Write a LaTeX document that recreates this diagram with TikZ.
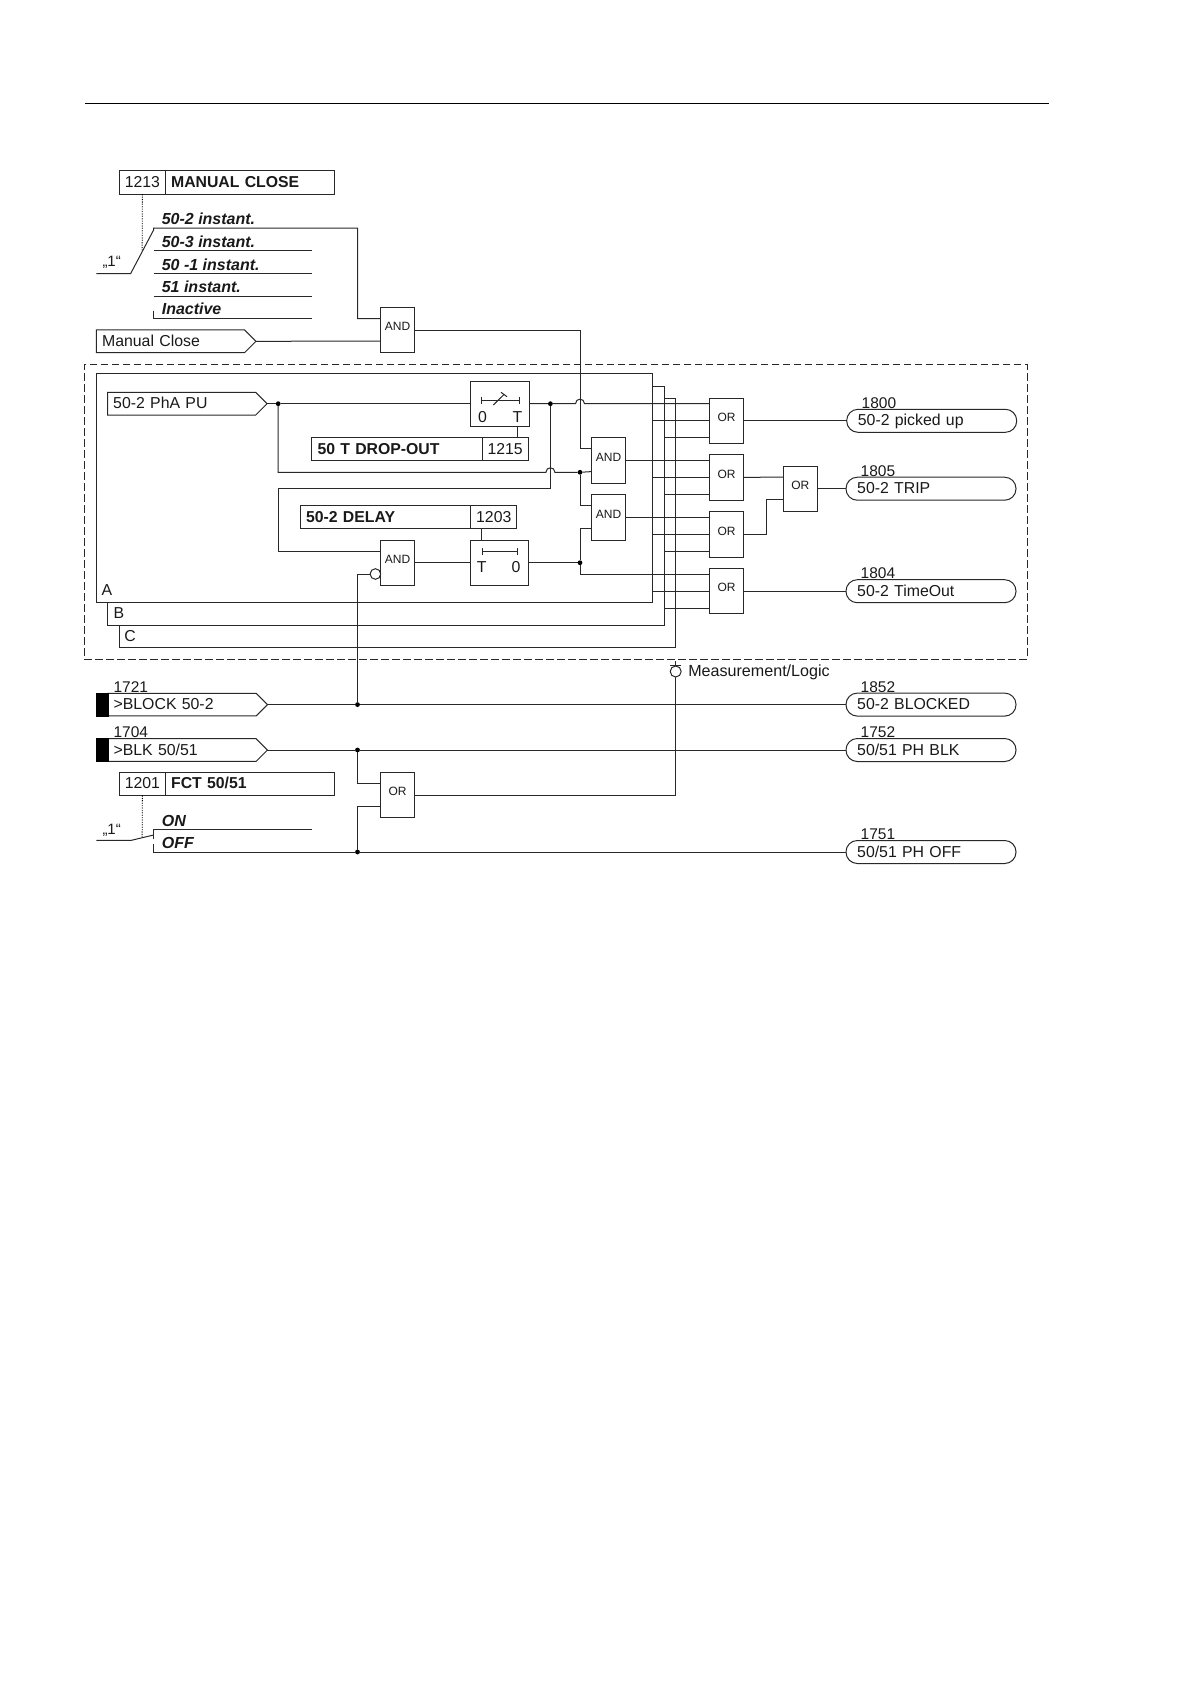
\documentclass[tikz,border=0pt]{standalone}
\usepackage{fontspec}
\setmainfont{Liberation Sans}
\usetikzlibrary{positioning,shapes.symbols}
\definecolor{myline}{RGB}{40,40,40}
\definecolor{mytext}{RGB}{25,25,25}

\begin{document}
\begin{tikzpicture}[x=1pt,y=-1pt]

\tikzstyle{wire} = [draw=myline,line width=1]
\tikzstyle{gate} = [draw=myline,outer sep=0,inner sep=0,line width=1,
    minimum width=34.2,minimum height=45.4,text=mytext,
    font=\fontsize{12}{12}\selectfont,text height=8,text depth=6.6]
\tikzstyle{dot} = [circle,fill=black,outer sep=0,inner sep=0,minimum size=4.8]
\tikzstyle{lbl} = [anchor=west,outer sep=0,inner sep=0,text=mytext,
    font=\fontsize{15.85}{16}\selectfont,text height=10,text depth=0]
\tikzstyle{num} = [lbl,font=\fontsize{15.5}{16}\selectfont]
\tikzstyle{pick} = [lbl,font=\fontsize{16}{16}\selectfont\bfseries\itshape]
\tikzstyle{parnum} = [draw=myline,outer sep=0,inner sep=0,line width=1,
    minimum height=23.2,text=mytext,font=\fontsize{15.8}{16}\selectfont,
    text height=10,text depth=0]
\tikzstyle{parname} = [parnum,font=\fontsize{15.8}{16}\selectfont\bfseries,
    align=left,inner xsep=5.7]
\tikzstyle{pennant} = [signal,signal to=east,signal pointer angle=90,
    draw=myline,outer sep=0,inner ysep=0,inner xsep=5.7,line width=1,anchor=west,
    minimum height=22.7,text width=136.8,align=left,text=mytext,
    font=\fontsize{15.85}{16}\selectfont,text height=10,text depth=0]
\tikzstyle{oval} = [draw=myline,rounded corners=11.3,outer sep=0,inner ysep=0,
    inner xsep=11.2,line width=1,anchor=west,minimum height=23,text width=147.6,
    align=left,text=mytext,font=\fontsize{15.85}{16}\selectfont,text height=10,text depth=0]
\tikzstyle{block} = [draw=black,fill=black,outer sep=0,inner sep=0,
    minimum width=11.5,minimum height=22.7]
\tikzstyle{setdots} = [draw=black,line width=0.8,dash pattern=on 1.2 off 1.2]

\useasboundingbox (0,0) rectangle (1190,1684);

\draw[line width=1,draw=black] (85,103.5) -- (1049,103.5);

% =========================
% manual close setting
% =========================
\node[parnum,minimum width=46,anchor=west] (closenum) at (119.4,182.5) {1213};
\node[parname,minimum width=169,text width=157.6,right=0pt of closenum] (closename) {MANUAL CLOSE};
\coordinate (closedots) at (142.1,250);
\coordinate (closein) at (96.4,273.5);
\coordinate (closeknee) at (130.7,273.5);
\coordinate (closearm) at (153.6,230);
\coordinate (closetop) at (153.6,228);
\coordinate (closedrop) at (357.5,228);
\draw[setdots] (closenum.south) -- (closedots);
\draw[wire] (closein) -- (closeknee) -- (closearm) -- (closetop) -- (closedrop) |- (380.4,318.7);
\draw[wire] (153.6,250.7) -- (312.1,250.7);
\draw[wire] (153.6,273.5) -- (312.1,273.5);
\draw[wire] (153.6,296) -- (312.1,296);
\draw[wire] (153.6,310.7) |- (312.1,318.7);

\node[lbl,font=\fontsize{15}{15}\selectfont] (closeone) at (102.5,261.7) {„1“};
\node[pick] (pickone) at (161.8,219.4) {50-2 instant.};
\node[pick] (picktwo) at (161.8,242) {50-3 instant.};
\node[pick] (pickthree) at (161.8,265) {50 -1 instant.};
\node[pick] (pickfour) at (161.8,287.4) {51 instant.};
\node[pick] (pickfive) at (161.8,309.4) {Inactive};

\node[gate] (andclose) at (397.5,330) {AND};
\node[pennant] (manual) at (96.4,341.3) {Manual Close};
\draw[wire] (manual.east) -- (andclose.213.5);

% =========================
% measurement block with phases
% =========================
\node[draw=myline,dash pattern=on 7.5 off 3.5,line width=1,minimum width=942.6,
    minimum height=294.7,outer sep=0] (dashbox) at (555.7,511.65) {};

\coordinate (bcorner) at (664.3,625.3);
\coordinate (ccorner) at (675.7,647.3);
\draw[wire] (107.9,602.3) |- (bcorner) |- (652.5,386.7);
\draw[wire] (119.4,625.3) |- (ccorner) |- (664.3,398.3);
\node[draw=myline,line width=1,minimum width=556.1,minimum height=229,
    outer sep=0] (aframe) at (374.45,487.8) {};
\node[lbl,anchor=center] (alabel) at (106.8,590.7) {A};
\node[lbl,anchor=center] (blabel) at (118.9,613.3) {B};
\node[lbl,anchor=center] (clabel) at (130,636) {C};

\node[pennant] (phasea) at (107.5,403.7) {50-2 PhA PU};

% drop-out timer
\node[draw=myline,line width=1,minimum width=58.9,minimum height=45,outer sep=0] (dropbox) at (500.15,403.7) {};
\node[lbl,anchor=center] (dropzero) at (482.5,417.3) {0};
\node[lbl,anchor=center] (dropt) at (517.5,417.3) {T};
\coordinate (dropbarl) at (481,400.3);
\coordinate (dropbarr) at (519.3,400.3);
\draw[wire] (dropbarl) -- (dropbarr);
\draw[wire] (481,396.7) -- (481,404);
\draw[wire] (519.3,396.7) -- (519.3,404);
\draw[wire] (493.3,405) -- (504,394.5);
\draw[wire] (501,392.3) -- (507,396.7);
\node[parname,minimum width=170.3,text width=158.9,anchor=west] (dropname) at (311.8,449.2) {50 T DROP-OUT};
\node[parnum,minimum width=46.1,right=0pt of dropname] (dropnum) {1215};
\draw[wire] (dropt |- dropbox.south) -- (dropt |- dropnum.north);

% delay timer
\node[parname,minimum width=170.3,text width=158.9,anchor=west] (delayname) at (300.4,517.2) {50-2 DELAY};
\node[parnum,minimum width=46.1,right=0pt of delayname] (delaynum) {1203};
\node[draw=myline,line width=1,minimum width=57.5,minimum height=45.4,outer sep=0] (delaybox) at (499.45,562.7) {};
\node[lbl,anchor=center] (delayt) at (481.8,567.3) {T};
\node[lbl,anchor=center] (delayzero) at (516,567.3) {0};
\coordinate (delaybarl) at (482.5,551.3);
\coordinate (delaybarr) at (517.5,551.3);
\draw[wire] (delaybarl) -- (delaybarr);
\draw[wire] (482.5,547.8) -- (482.5,554.8);
\draw[wire] (517.5,547.8) -- (517.5,554.8);
\draw[wire] (delayt |- delaybox.north) -- (delayt |- delaynum.south);

% gates
\node[gate] (andone) at (608.5,460.5) {AND};
\node[gate] (andtwo) at (608.5,517.3) {AND};
\node[gate] (andblk) at (397.5,562.7) {AND};
\node[gate] (orone) at (726.5,420.8) {OR};
\node[gate] (ortwo) at (726.5,477.3) {OR};
\node[gate] (orthree) at (726.5,534.3) {OR};
\node[gate] (orfour) at (726.5,591.2) {OR};
\node[gate] (ortrip) at (800.3,488.7) {OR};

% junctions
\node[dot] (dotpu) at (278.2,403.7) {};
\node[dot] (dotdrop) at (550.4,403.7) {};
\node[dot] (dotand) at (580,472.3) {};
\node[dot] (dotdelay) at (580,562.7) {};
\node[circle,draw=myline,fill=white,line width=1,inner sep=0,outer sep=0,minimum size=10.6] (invert) at (375.4,574) {};

% wires of phase A
\coordinate (humpal) at (575.5,403.7);
\coordinate (humpar) at (584.5,403.7);
\coordinate (humpbl) at (545.9,472.3);
\coordinate (humpbr) at (554.9,472.3);
\coordinate (closedown) at (580,330);
\coordinate (dropleft) at (278.2,488.7);
\coordinate (dropright) at (550.4,488.7);
\coordinate (orknee) at (766.7,534.3);
\draw[wire] (phasea.east) -- (dotpu) -- (dropbox.west);
\draw[wire] (dropbox.east) -- (dotdrop) -- (humpal)
    .. controls +(0,-6) and +(0,-6) .. (humpar) -- (orone.135);
\draw[wire] (dotpu) |- (humpbl)
    .. controls +(0,-6) and +(0,-6) .. (humpbr) -- (dotand) -- (andone.213.5);
\draw[wire] (dotdrop) -- (dropright) -- (dropleft) |- (andblk.146.5);
\draw[wire] (andclose.east) -- (closedown) |- (andone.146.5);
\draw[wire] (dotand) |- (andtwo.146.5);
\draw[wire] (dotdelay) |- (andtwo.213.5);
\draw[wire] (andblk.east) -- (delaybox.west);
\draw[wire] (delaybox.east) -- (dotdelay);
\draw[wire] (dotdelay) |- (orfour.135);
\draw[wire] (andone.east) -- (andone.east -| ortwo.west);
\draw[wire] (andtwo.east) -- (andtwo.east -| orthree.west);

% the other phases into the OR gates
\draw[wire] (aframe.east |- orone.west) -- (orone.west);
\draw[wire] (bcorner |- orone.225) -- (orone.225);
\draw[wire] (aframe.east |- ortwo.west) -- (ortwo.west);
\draw[wire] (bcorner |- ortwo.225) -- (ortwo.225);
\draw[wire] (aframe.east |- orthree.west) -- (orthree.west);
\draw[wire] (bcorner |- orthree.225) -- (orthree.225);
\draw[wire] (aframe.east |- orfour.west) -- (orfour.west);
\draw[wire] (bcorner |- orfour.225) -- (orfour.225);

% outputs
\node[num] (numpicked) at (861.7,403) {1800};
\node[oval,minimum width=170] (picked) at (846.7,420.8) {50-2 picked up};
\node[num] (numtrip) at (860.7,471) {1805};
\node[oval,minimum width=170] (trip) at (846,488.7) {50-2 TRIP};
\node[num] (numtimeout) at (860.7,573.3) {1804};
\node[oval,minimum width=170] (timeout) at (846,591.2) {50-2 TimeOut};
\draw[wire] (orone.east) -- (picked.west);
\draw[wire] (ortwo.east) -- (ortrip.146.5);
\draw[wire] (orthree.east) -- (orknee) |- (ortrip.213.5);
\draw[wire] (ortrip.east) -- (trip.west);
\draw[wire] (orfour.east) -- (timeout.west);

% =========================
% blocking and function switch
% =========================
\node[circle,draw=myline,line width=1,inner sep=0,outer sep=0,minimum size=11] (logic) at (675.7,671.5) {};
\coordinate (logictick) at (675.7,660.5);
\coordinate (logicbarl) at (670,665.5);
\coordinate (logicbarr) at (681.4,665.5);
\draw[wire] (logic.north) -- (logictick);
\draw[wire] (logicbarl) -- (logicbarr);
\node[lbl,font=\fontsize{16.1}{16}\selectfont] (logictext) at (688.3,671) {Measurement/Logic};

\node[num] (numblock) at (113.6,687) {1721};
\node[pennant] (blockin) at (107.9,704.6) {>BLOCK 50-2};
\node[block,left=0pt of blockin] (blockbar) {};
\node[num] (numblk) at (113.6,732) {1704};
\node[pennant] (blkin) at (107.9,750) {>BLK 50/51};
\node[block,left=0pt of blkin] (blkbar) {};

\node[parnum,minimum width=46,anchor=west] (fctnum) at (119.4,783.8) {1201};
\node[parname,minimum width=169,text width=157.6,right=0pt of fctnum] (fctname) {FCT 50/51};
\coordinate (fctdots) at (142.1,836.7);
\coordinate (fctin) at (96.4,840.3);
\coordinate (fctknee) at (131.4,840.3);
\coordinate (fctarm) at (153.6,835);
\draw[setdots] (fctnum.south) -- (fctdots);
\draw[wire] (fctin) -- (fctknee) -- (fctarm);
\draw[wire] (153.6,839) |- (312.1,829);
\node[lbl,font=\fontsize{15}{15}\selectfont] (fctone) at (102.5,829.3) {„1“};
\node[pick] (pickon) at (161.8,821) {ON};
\node[pick] (pickoff) at (161.8,843) {OFF};

\node[gate] (orfct) at (397.5,795) {OR};
\node[dot] (dotblock) at (357.5,704.6) {};
\node[dot] (dotblk) at (357.5,750) {};
\node[dot] (dotoff) at (357.5,852) {};

\node[num] (numblocked) at (860.7,687) {1852};
\node[oval,minimum width=170] (blocked) at (846,704.6) {50-2 BLOCKED};
\node[num] (numphblk) at (860.7,732) {1752};
\node[oval,minimum width=170] (phblk) at (846,750) {50/51 PH BLK};
\node[num] (numphoff) at (860.7,834.3) {1751};
\node[oval,minimum width=170] (phoff) at (846,852) {50/51 PH OFF};

\draw[wire] (blockin.east) -- (dotblock) -- (blocked.west);
\draw[wire] (blkin.east) -- (dotblk) -- (phblk.west);
\draw[wire] (153.6,844) |- (dotoff) -- (phoff.west);
\draw[wire] (dotblock) |- (invert.west);
\draw[wire] (dotblk) |- (orfct.146.5);
\draw[wire] (dotoff) |- (orfct.213.5);
\draw[wire] (orfct.east) -| (logic.south);

\end{tikzpicture}
\end{document}
